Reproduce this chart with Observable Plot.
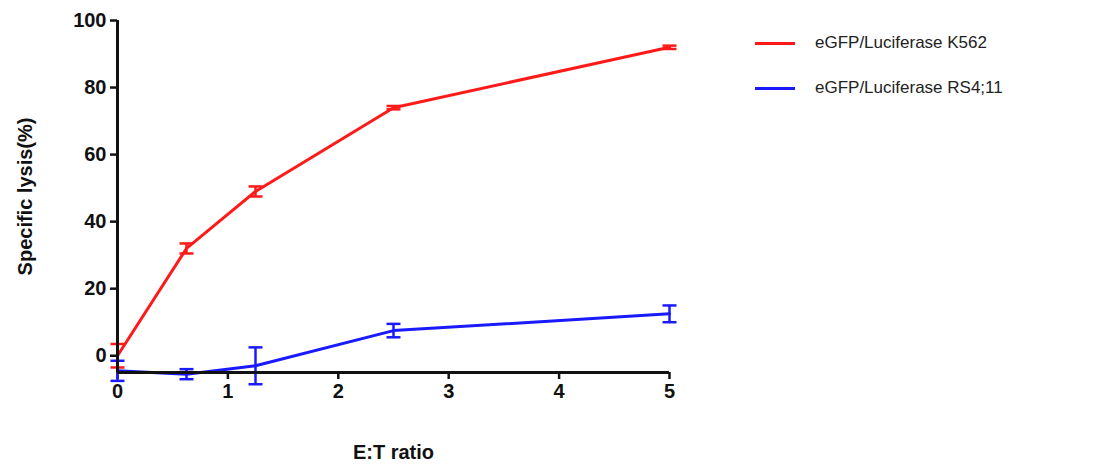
<!DOCTYPE html>
<html><head>
<script src="https://cdn.jsdelivr.net/npm/d3@7"></script>
<script src="https://cdn.jsdelivr.net/npm/@observablehq/plot@0.6"></script>
<style>
body{margin:0;background:#fff;font-family:"Liberation Sans",Arial,sans-serif}
#wrap{position:relative;width:1108px;height:466px}
.leg{position:absolute;left:755px;font-size:17px;color:#222;display:flex;align-items:center}
.leg span{display:inline-block;width:40px;height:3px;margin-right:20px}
svg g[aria-label="x-axis tick"], svg g[aria-label="y-axis tick"]{stroke-width:2.5;stroke:#111}
</style></head><body>
<div id="wrap"></div>
<script>
const ratios = [0, 0.625, 1.25, 2.5, 5];
const k562 = [0, 32, 49, 74, 92];
const k562Err = [3.5, 1.5, 1.5, 0.5, 0.5];
const rs411 = [-4.5, -5.5, -3, 7.5, 12.5];
const rs411Err = [3, 1.5, 5.5, 2, 2.5];
const series = [
  {name: "eGFP/Luciferase K562", color: "#ff1a1a", y: k562, e: k562Err},
  {name: "eGFP/Luciferase RS4;11", color: "#1a1aff", y: rs411, e: rs411Err}
];
const data = series.flatMap(s => ratios.map((x, i) => ({s: s.name, c: s.color, x, y: s.y[i], lo: s.y[i] - s.e[i], hi: s.y[i] + s.e[i]})));
const caps = data.flatMap(d => [{...d, v: d.lo}, {...d, v: d.hi}]);
const capSymbol = {draw(ctx) { ctx.moveTo(-7, 0); ctx.lineTo(7, 0); }};
const plot = Plot.plot({
  width: 700, height: 466,
  marginLeft: 117, marginRight: 31, marginTop: 20, marginBottom: 94,
  style: {fontFamily: "Liberation Sans, Arial, sans-serif", fontSize: "20px", fontWeight: "bold", color: "#111"},
  x: {type: "linear", domain: [0, 5], ticks: [0,1,2,3,4,5], tickFormat: "d", label: "E:T ratio", labelAnchor: "center", labelArrow: "none", labelOffset: 86, tickSize: 7, tickPadding: 4},
  y: {type: "linear", domain: [-5, 100], ticks: [0,20,40,60,80,100], tickFormat: "d", label: "Specific lysis(%)", labelAnchor: "center", labelArrow: "none", labelOffset: 100, tickSize: 7, tickPadding: 4},
  marks: [
    Plot.ruleX(data, {x: "x", y1: "lo", y2: "hi", stroke: "c", strokeWidth: 2.5, clip: false}),
    Plot.lineY(data, {x: "x", y: "y", z: "s", stroke: "c", strokeWidth: 3}),
    Plot.dot(caps, {x: "x", y: "v", symbol: () => capSymbol, stroke: "c", strokeWidth: 2.5, r: 1}),
    Plot.ruleX([0], {stroke: "#111", strokeWidth: 3}),
    Plot.ruleY([-5], {stroke: "#111", strokeWidth: 3})
  ]
});
document.getElementById("wrap").append(plot);
series.forEach((s, i) => {
  const d = document.createElement("div");
  d.className = "leg"; d.style.top = (33 + i * 45) + "px";
  d.innerHTML = `<span style="background:${s.color}"></span>${s.name}`;
  document.getElementById("wrap").append(d);
});
</script>
</body></html>
